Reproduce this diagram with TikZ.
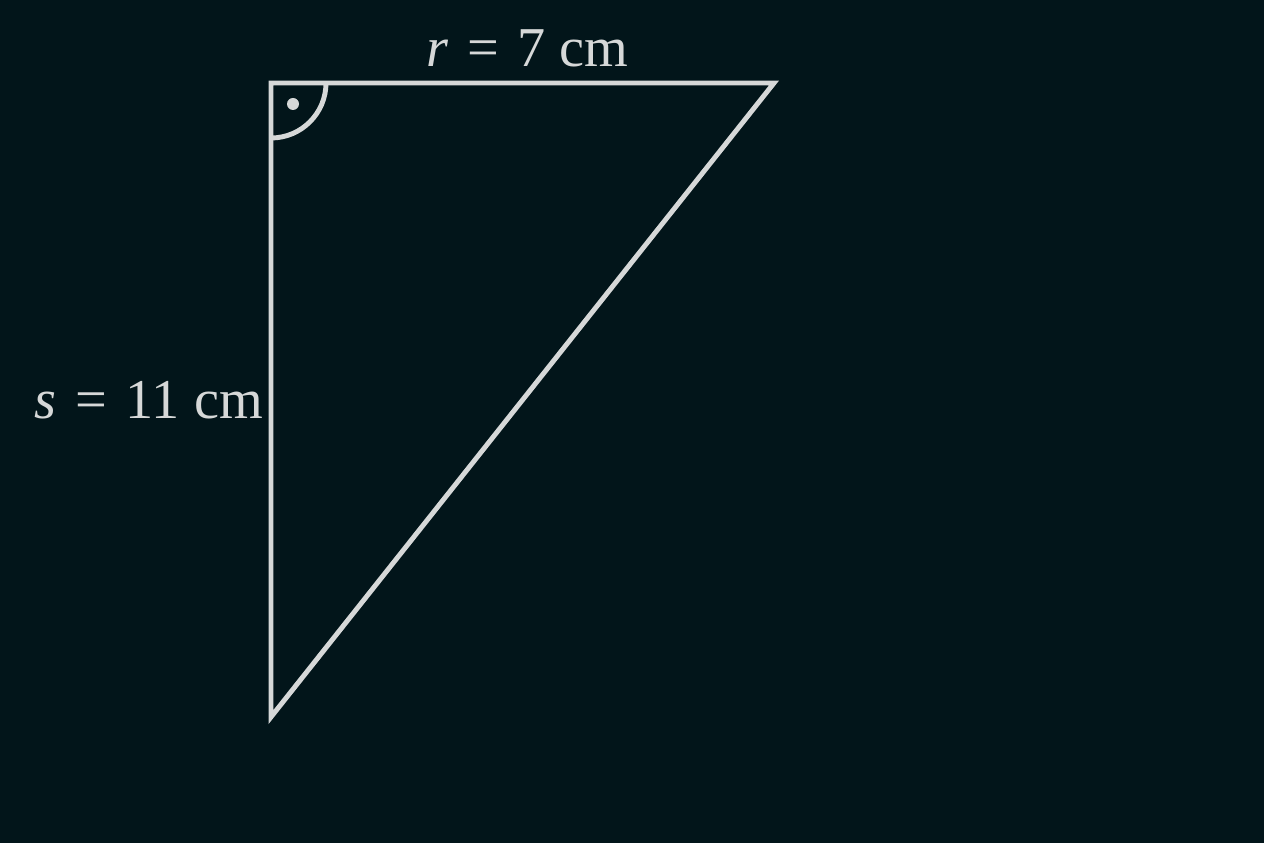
\documentclass[tikz,border=0pt]{standalone}
\usepackage{fontspec}
\setmainfont{Liberation Serif}
\usepackage{tikz}
\usetikzlibrary{positioning,calc}

\definecolor{board}{HTML}{02151A}
\definecolor{chalk}{HTML}{D6D8D8}

\begin{document}
\begin{tikzpicture}[scale=1, line width=1.4pt, draw=chalk, text=chalk,
    side/.style={font=\fontsize{16}{18}\selectfont}]
    \fill[board] (0,0) rectangle (12.64,8.43);
    \useasboundingbox (0,0) rectangle (12.64,8.43);

    \coordinate (a) at (2.71,7.60);
    \coordinate (b) at (7.74,7.60);
    \coordinate (c) at (2.71,1.26);

    \draw[chalk, line join=miter] (a) -- (b) -- (c) -- cycle;

    % right angle mark
    \draw[chalk] ([yshift=-0.55cm]a) arc[start angle=-90, end angle=0, radius=0.55cm];
    \fill[chalk] ([xshift=0.22cm, yshift=-0.21cm]a) circle (0.06);

    \node[side, above=0.02cm of {$(a)!0.51!(b)$}] (r) {\textit{r}\,\,=\,\,7 cm};
    \node[side, left=-0.06cm of {$(a)!0.5!(c)$}] (s) {\textit{s}\,\,=\,\,11 cm};
\end{tikzpicture}
\end{document}
